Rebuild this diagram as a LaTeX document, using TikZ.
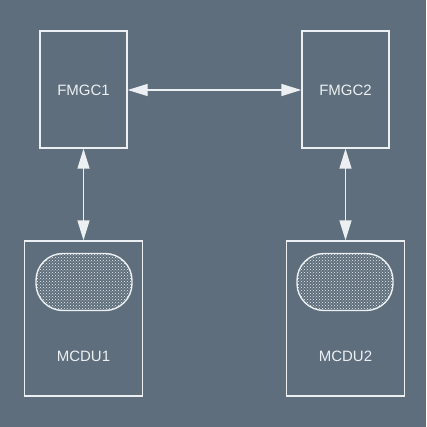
\documentclass[tikz,border=0pt]{standalone}
\usepackage{fontspec}
\setmainfont{Liberation Sans}
\usetikzlibrary{arrows.meta,patterns}
\definecolor{bg}{RGB}{94,110,124}
\definecolor{ln}{RGB}{236,240,242}
\tikzset{
  unit/.style={draw=ln, line width=1.4pt, rectangle, inner sep=0pt},
  screen/.style={draw=ln, line width=1.4pt, rounded corners=27pt, inner sep=0pt, minimum width=96pt, minimum height=57pt, fill=bg!85!white, pattern=crosshatch dots, pattern color=ln},
  lbl/.style={text=ln, font=\fontsize{15}{17}\selectfont},
  link/.style={ln, line width=1.4pt, {Triangle[length=20pt,width=12pt]}-{Triangle[length=20pt,width=12pt]}}
}
\begin{document}
\begin{tikzpicture}[x=1pt,y=-1pt]
\fill[bg] (0,0) rectangle (426,427);
\useasboundingbox (0,0) rectangle (426,427);
\node[unit, minimum width=87pt, minimum height=117pt] (f1) at (83.5,89.5) {};
\node[unit, minimum width=87pt, minimum height=117pt] (f2) at (345.5,89.5) {};
\node[unit, minimum width=118pt, minimum height=155pt] (m1) at (83.5,318.5) {};
\node[unit, minimum width=118pt, minimum height=155pt] (m2) at (345.5,318.5) {};
\node[lbl] (t1) at (83.5,90) {FMGC1};
\node[lbl] (t2) at (345.5,90) {FMGC2};
\node[lbl] (t3) at (83.5,356) {MCDU1};
\node[lbl] (t4) at (345.5,356) {MCDU2};
\node[screen] (s1) at (84,282) {};
\node[screen] (s2) at (345,282) {};
\draw[link] (f1.east |- 0,90) coordinate (a1) -- (f2.west |- 0,90) coordinate (a2);
\draw[link] (f1.south) -- (m1.north);
\draw[link] (f2.south) -- (m2.north);
\end{tikzpicture}
\end{document}
